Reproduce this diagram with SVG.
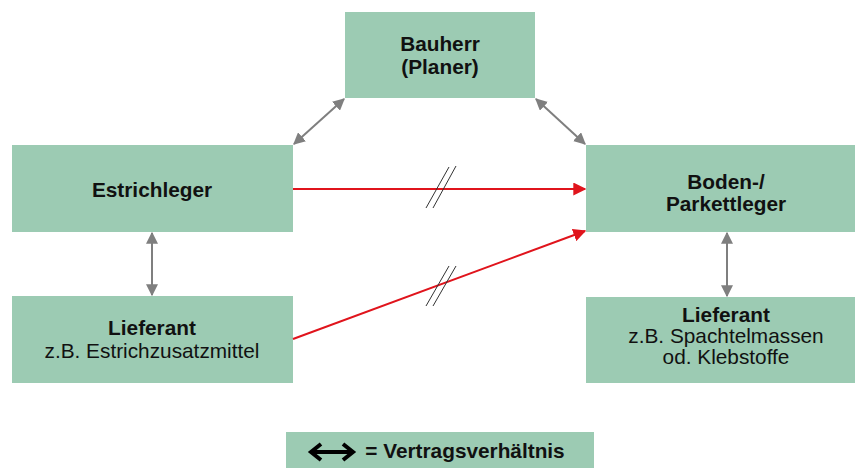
<svg xmlns="http://www.w3.org/2000/svg" width="855" height="468" viewBox="0 0 855 468">
<defs>
<marker id="ga" viewBox="0 0 10 10" refX="9" refY="5" markerWidth="6" markerHeight="6" orient="auto-start-reverse" markerUnits="strokeWidth"><path d="M0,0 L10,5 L0,10 z" fill="#7f7f7f"/></marker>
<marker id="ra" viewBox="0 0 10 10" refX="9" refY="5" markerWidth="6.5" markerHeight="6.5" orient="auto" markerUnits="strokeWidth"><path d="M0,0 L10,5 L0,10 z" fill="#e0141c"/></marker>
</defs>
<style>
.box{fill:#9ccbb3}
text{font-family:"Liberation Sans",Arial,sans-serif;font-size:20.8px;fill:#111;text-anchor:middle}
.b{font-weight:bold}
.g{stroke:#7f7f7f;stroke-width:2;fill:none;marker-start:url(#ga);marker-end:url(#ga)}
.r{stroke:#e0141c;stroke-width:2;fill:none;marker-end:url(#ra)}
.h{stroke:#333;stroke-width:1;fill:none}
</style>
<rect width="855" height="468" fill="#fff"/>
<g id="bauherr"><rect class="box" x="345" y="12" width="190" height="86"/><text class="b" x="440" y="51">Bauherr</text><text class="b" x="440" y="74">(Planer)</text></g>
<g id="estrichleger"><rect class="box" x="12" y="145" width="281" height="87"/><text class="b" x="152" y="197">Estrichleger</text></g>
<g id="boden"><rect class="box" x="586" y="145" width="280" height="87"/><text class="b" x="726" y="189">Boden-/</text><text class="b" x="726" y="211">Parkettleger</text></g>
<g id="lieferant-links"><rect class="box" x="12" y="296" width="281" height="87"/><text class="b" x="152" y="335">Lieferant</text><text x="152" y="358">z.B. Estrichzusatzmittel</text></g>
<g id="lieferant-rechts"><rect class="box" x="586" y="297" width="280" height="86"/><text class="b" x="726" y="322">Lieferant</text><text x="726" y="343">z.B. Spachtelmassen</text><text x="726" y="364">od. Klebstoffe</text></g>
<g id="legende"><rect class="box" x="286" y="432" width="308" height="36"/><text class="b" x="465" y="458">= Vertragsverhältnis</text>
<path d="M313,452 L351,452" stroke="#000" stroke-width="4"/><path d="M321,444 L311,452 L321,460 M343,444 L353,452 L343,460" stroke="#000" stroke-width="4" fill="none" stroke-linejoin="miter"/></g>
<g id="connectors">
<line class="g" x1="344" y1="99" x2="294" y2="144"/>
<line class="g" x1="536" y1="99" x2="585" y2="144"/>
<line class="g" x1="152" y1="233" x2="152" y2="295"/>
<line class="g" x1="727" y1="233" x2="727" y2="296"/>
<line class="r" x1="293" y1="189" x2="585" y2="189"/>
<line class="r" x1="293" y1="339" x2="585" y2="231"/>
<path class="h" d="M426,208 L449,167 M433,208 L456,166 M426,306 L449,266 M433,306 L456,266"/>
</g>
</svg>
